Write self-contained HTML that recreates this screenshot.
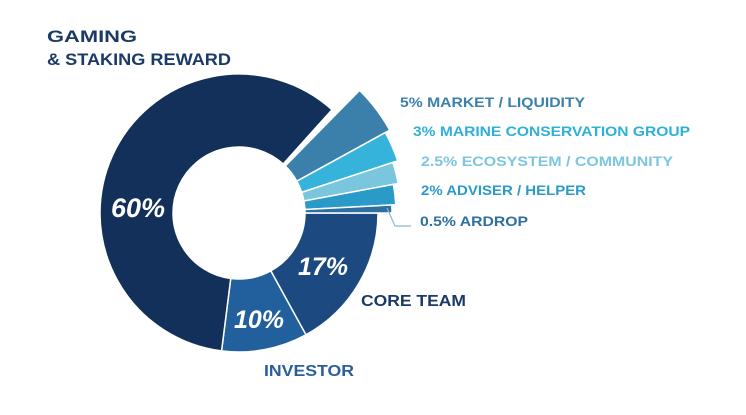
<!DOCTYPE html>
<html><head><meta charset="utf-8"><style>
body{margin:0;background:#fff;width:746px;height:410px;overflow:hidden}
svg text{font-family:"Liberation Sans",sans-serif;font-weight:bold}
</style></head><body>
<svg id="s" width="746" height="410" viewBox="0 0 746 410" xmlns="http://www.w3.org/2000/svg">
<g id="p"></g>
<polyline points="387,208 395,226 411,226" fill="none" stroke="#8fb5d0" stroke-width="1.2"/>
<text x="47" y="42" font-size="17" fill="#1b3a66" textLength="90" lengthAdjust="spacingAndGlyphs">GAMING</text>
<text x="47" y="65" font-size="17" fill="#1b3a66" textLength="184" lengthAdjust="spacingAndGlyphs">&amp; STAKING REWARD</text>
<text x="400" y="107" font-size="14" fill="#3a80ab" textLength="185" lengthAdjust="spacingAndGlyphs">5%  MARKET / LIQUIDITY</text>
<text x="413" y="136" font-size="14" fill="#2fb0d8" textLength="277" lengthAdjust="spacingAndGlyphs">3%  MARINE CONSERVATION GROUP</text>
<text x="421" y="166" font-size="14" fill="#7cc6e0" textLength="252" lengthAdjust="spacingAndGlyphs">2.5%  ECOSYSTEM / COMMUNITY</text>
<text x="421" y="195" font-size="14" fill="#2a9bc9" textLength="165" lengthAdjust="spacingAndGlyphs">2% ADVISER / HELPER</text>
<text x="420" y="226" font-size="14" fill="#2f6fa0" textLength="108" lengthAdjust="spacingAndGlyphs">0.5% ARDROP</text>
<text x="361" y="306" font-size="16" fill="#1b3a66" textLength="105" lengthAdjust="spacingAndGlyphs">CORE TEAM</text>
<text x="264" y="376" font-size="16" fill="#2a5f9a" textLength="90" lengthAdjust="spacingAndGlyphs">INVESTOR</text>
<text x="138" y="217" font-size="27" font-style="italic" fill="#fff" text-anchor="middle">60%</text>
<text x="323" y="275" font-size="25" font-style="italic" fill="#fff" text-anchor="middle">17%</text>
<text x="259" y="328" font-size="25" font-style="italic" fill="#fff" text-anchor="middle">10%</text>
</svg>
<script>
var cx=239,cy=213,ri=66;
function sec(a0,a1,ro,col){var r=Math.PI/180;
function pt(a,rr){return (cx+rr*Math.cos(a*r)).toFixed(2)+","+(cy+rr*Math.sin(a*r)).toFixed(2)}
var l=(a1-a0)>180?1:0;
var d="M"+pt(a0,ri)+" L"+pt(a0,ro)+" A"+ro+","+ro+" 0 "+l+" 1 "+pt(a1,ro)+" L"+pt(a1,ri)+" A"+ri+","+ri+" 0 "+l+" 0 "+pt(a0,ri)+"Z";
return '<path d="'+d+'" fill="'+col+'" stroke="#fff" stroke-width="1.5"/>';}
var h="";
h+=sec(0,61.2,139,"#1c4a80");
h+=sec(61.2,97.2,139,"#21609c");
h+=sec(97.2,312,139,"#12305a");
h+=sec(314.5,331.2,172,"#3a80ab");
h+=sec(331.2,341.8,167,"#36b3da");
h+=sec(341.8,349.5,162,"#7ac6de");
h+=sec(349.5,357,157,"#2a9bc9");
h+=sec(357,360,153,"#2f6fa0");
document.getElementById("p").innerHTML=h;
</script>
</body></html>
